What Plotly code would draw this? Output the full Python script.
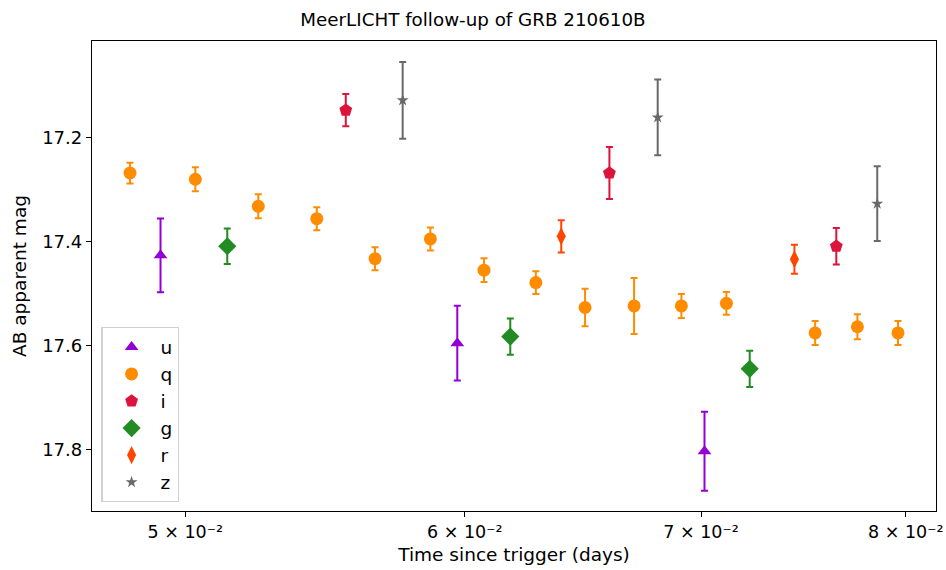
import plotly.graph_objects as go

# ---- data (time in days, AB mag, 1-sigma error) ----
u_t = [0.04920, 0.05971, 0.07016]
u_m = [17.4265, 17.5957, 17.8039]
u_e = [0.071, 0.072, 0.076]

q_t = [0.04823, 0.05033, 0.05244, 0.05448, 0.05659, 0.05867, 0.06076, 0.06285,
       0.06490, 0.06701, 0.06911, 0.07117, 0.07541, 0.07752, 0.07960]
q_m = [17.268, 17.280, 17.332, 17.356, 17.433, 17.395, 17.455, 17.479,
       17.527, 17.524, 17.524, 17.519, 17.576, 17.564, 17.576]
q_e = [0.020, 0.023, 0.023, 0.022, 0.022, 0.022, 0.023, 0.022,
       0.036, 0.054, 0.023, 0.022, 0.023, 0.024, 0.023]

i_t = [0.05552, 0.06594, 0.07646]
i_m = [17.147, 17.268, 17.409]
i_e = [0.031, 0.050, 0.035]

g_t = [0.05139, 0.06181, 0.07226]
g_m = [17.409, 17.583, 17.645]
g_e = [0.034, 0.035, 0.035]

r_t = [0.06390, 0.07440]
r_m = [17.390, 17.434]
r_e = [0.031, 0.028]

z_t = [0.05762, 0.06805, 0.07853]
z_m = [17.128, 17.161, 17.327]
z_e = [0.074, 0.073, 0.072]

x_tickvals = [0.05, 0.06, 0.07, 0.08]
x_ticktext = ["5 × 10⁻²", "6 × 10⁻²", "7 × 10⁻²", "8 × 10⁻²"]
y_tickvals = [17.2, 17.4, 17.6, 17.8]
y_ticktext = ["17.2", "17.4", "17.6", "17.8"]

series = [
    ("u", u_t, u_m, u_e, "darkviolet", "triangle-up", 12),
    ("q", q_t, q_m, q_e, "darkorange", "circle", 13),
    ("i", i_t, i_m, i_e, "crimson", "pentagon", 13.5),
    ("g", g_t, g_m, g_e, "forestgreen", "diamond", 14),
    ("r", r_t, r_m, r_e, "orangered", "diamond-tall", 13),
    ("z", z_t, z_m, z_e, "dimgray", "star", 9),
]

fig = go.Figure()
for name, t, m, e, col, sym, sz in series:
    fig.add_trace(go.Scatter(
        x=t, y=m, mode="markers", name=name,
        marker=dict(color=col, symbol=sym, size=sz, line=dict(width=0)),
        error_y=dict(type="data", array=e, visible=True, color=col,
                     thickness=2, width=3.5),
    ))

font = "DejaVu Sans, sans-serif"
fig.update_layout(
    width=946, height=570,
    margin=dict(l=92, r=10, t=41, b=59, autoexpand=False),
    paper_bgcolor="white", plot_bgcolor="white",
    font=dict(family=font, size=17, color="black"),
    title=dict(text="MeerLICHT follow-up of GRB 210610B", x=0.5, xanchor="center",
               y=0.965, yanchor="middle", font=dict(size=18.3)),
    showlegend=True,
    legend=dict(x=0.011, y=0.019, xanchor="left", yanchor="bottom",
                bordercolor="#d0d0d0", borderwidth=1.3, bgcolor="rgba(255,255,255,0.8)",
                font=dict(size=18.5), itemsizing="trace", itemwidth=48,
                tracegroupgap=0),
)
fig.update_xaxes(
    type="log", range=[-1.32745, -1.08832], automargin=False,
    tickvals=x_tickvals, ticktext=x_ticktext,
    showgrid=False, zeroline=False,
    showline=True, linecolor="black", linewidth=1.3, mirror=True,
    ticks="outside", ticklen=5, tickwidth=1.2, tickcolor="black",
    title=dict(text="Time since trigger (days)", font=dict(size=18.5), standoff=6),
    tickfont=dict(size=17.5),
)
fig.update_yaxes(
    range=[17.9188, 17.0138], automargin=False,
    tickvals=y_tickvals, ticktext=y_ticktext,
    showgrid=False, zeroline=False,
    showline=True, linecolor="black", linewidth=1.3, mirror=True,
    ticks="outside", ticklen=5, tickwidth=1.2, tickcolor="black",
    title=dict(text="AB apparent mag", font=dict(size=18.5), standoff=10),
    tickfont=dict(size=18),
)

fig.write_html("out.html")
